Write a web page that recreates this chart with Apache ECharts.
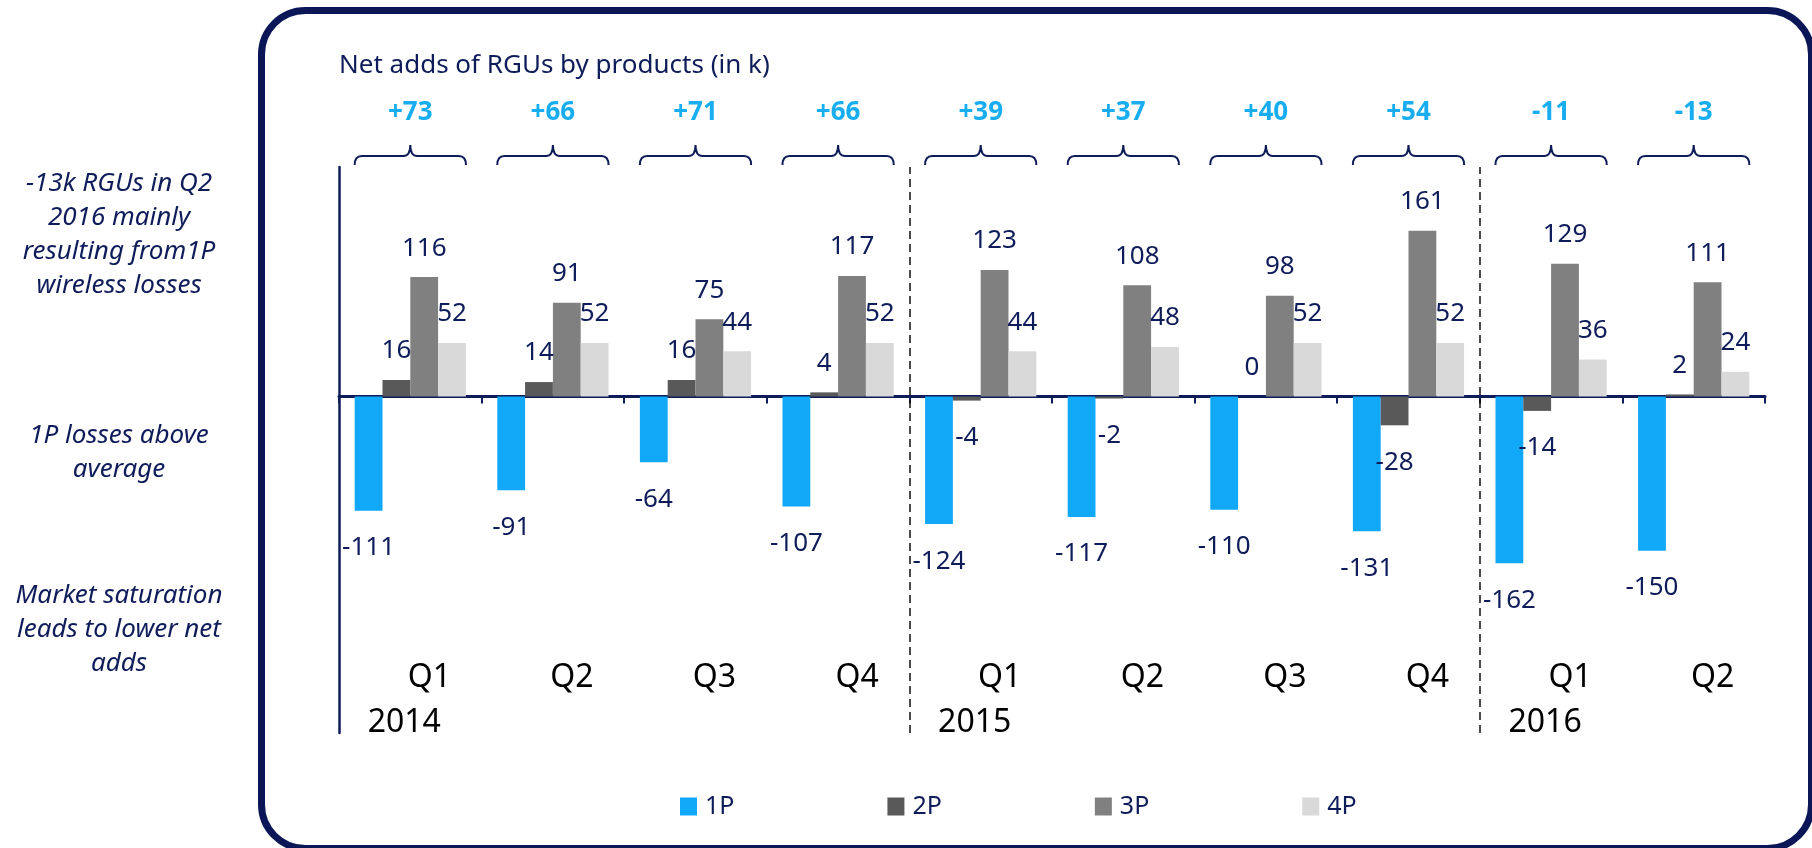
<!DOCTYPE html>
<html>
<head>
<meta charset="utf-8">
<script src="https://cdn.jsdelivr.net/npm/echarts@6/dist/echarts.min.js"></script>
<style>
  html, body { margin: 0; padding: 0; background: #fff; }
  #chart { width: 1812px; height: 848px; }
</style>
</head>
<body>
<div id="chart"></div>
<script>
// Quarterly net adds of RGUs (in thousands) split by product bundle
const quarters = ['Q1', 'Q2', 'Q3', 'Q4', 'Q1', 'Q2', 'Q3', 'Q4', 'Q1', 'Q2'];
const years = ['2014', '', '', '', '2015', '', '', '', '2016', ''];
const seriesNames = ['1P', '2P', '3P', '4P'];
const p1 = [-111, -91, -64, -107, -124, -117, -110, -131, -162, -150];
const p2 = [16, 14, 16, 4, -4, -2, 0, -28, -14, 2];
const p3 = [116, 91, 75, 117, 123, 108, 98, 161, 129, 111];
const p4 = [52, 52, 44, 52, 44, 48, 52, 52, 36, 24];
const totals = [73, 66, 71, 66, 39, 37, 40, 54, -11, -13];
const yearBreaks = [4, 8];

const NAVY = '#0f1c5a';
const FONT = '"Noto Sans", "Open Sans", sans-serif';
const colors = ['#12a8f8', '#595959', '#808080', '#d9d9d9'];

// value labels: above positive bars, below negative ones
function withLabels(values) {
  return values.map(v => v >= 0
    ? { value: v, label: { position: 'top', distance: 16 } }
    : { value: v, label: { position: 'bottom', distance: 24 } });
}

function bracePath(cx, w, yEnd, yMid, yPeak) {
  const l = cx - w / 2, r = cx + w / 2, c = 7;
  return 'M' + l + ',' + yEnd +
    ' Q' + l + ',' + yMid + ' ' + (l + c) + ',' + yMid +
    ' L' + (cx - c) + ',' + yMid +
    ' Q' + cx + ',' + yMid + ' ' + cx + ',' + yPeak +
    ' Q' + cx + ',' + yMid + ' ' + (cx + c) + ',' + yMid +
    ' L' + (r - c) + ',' + yMid +
    ' Q' + r + ',' + yMid + ' ' + r + ',' + yEnd;
}

const chart = echarts.init(document.getElementById('chart'), null, { renderer: 'canvas' });

const barSeries = [p1, p2, p3, p4].map((vals, i) => ({
  name: seriesNames[i],
  type: 'bar',
  xAxisIndex: 0,
  yAxisIndex: 0,
  barGap: '0%',
  barCategoryGap: '22%',
  itemStyle: { color: colors[i] },
  label: {
    show: true,
    color: NAVY,
    fontSize: 26,
    fontFamily: FONT
  },
  data: withLabels(vals)
}));

function noteText(text, y) {
  return {
    type: 'text',
    silent: true,
    style: {
      text: text, x: 119, y: y, align: 'center', lineHeight: 34,
      fill: NAVY, fontSize: 26, fontStyle: 'italic', fontFamily: FONT
    }
  };
}

const option = {
  animation: false,
  backgroundColor: '#ffffff',
  title: {
    text: 'Net adds of RGUs by products (in k)',
    left: 339,
    top: 53,
    padding: 0,
    textStyle: { color: NAVY, fontSize: 26, fontWeight: 'normal', fontFamily: FONT }
  },
  legend: {
    data: seriesNames,
    left: 680,
    top: 794,
    padding: 0,
    itemWidth: 17,
    itemHeight: 18,
    itemGap: 153,
    icon: 'rect',
    textStyle: { color: NAVY, fontSize: 25, fontFamily: FONT, padding: [0, 0, 0, 3] }
  },
  grid: { left: 339, right: 47, top: 167, bottom: 115, containLabel: false },
  xAxis: [
    {
      type: 'category',
      data: quarters,
      axisLine: { onZero: true, lineStyle: { color: NAVY, width: 3 } },
      axisTick: { show: true, interval: 0, length: 7, lineStyle: { color: NAVY, width: 2 } },
      axisLabel: { show: false },
      splitLine: { show: false }
    },
    {
      type: 'category',
      data: quarters,
      position: 'bottom',
      offset: -71,
      axisLine: { show: false },
      axisTick: { show: false },
      axisLabel: {
        interval: 0, margin: 0, color: '#000', fontSize: 32, fontFamily: FONT,
        padding: [0, 0, 0, 38]
      }
    },
    {
      type: 'category',
      data: years,
      position: 'bottom',
      offset: -26,
      axisLine: { show: false },
      axisTick: { show: false },
      axisLabel: {
        interval: 0, margin: 0, color: '#000', fontSize: 32, fontFamily: FONT,
        padding: [0, 12, 0, 0]
      }
    },
    {
      type: 'value',
      min: 0,
      max: quarters.length,
      show: false
    }
  ],
  yAxis: [{
    type: 'value',
    min: -327,
    max: 223,
    axisLine: { show: true, lineStyle: { color: NAVY, width: 2.5 } },
    axisTick: { show: false },
    axisLabel: { show: false },
    splitLine: { show: false }
  }],
  graphic: [
    {
      type: 'rect',
      silent: true,
      shape: { x: 261.5, y: 10.5, width: 1550, height: 838, r: 44 },
      style: { fill: 'none', stroke: '#0b1656', lineWidth: 7 },
      z: 100
    },
    noteText('-13k RGUs in Q2\n2016 mainly\nresulting from1P\nwireless losses', 167),
    noteText('1P losses above\naverage', 419),
    noteText('Market saturation\nleads to lower net\nadds', 579)
  ],
  series: barSeries.concat([
    {
      // group totals with curly braces above each quarter
      type: 'custom',
      xAxisIndex: 0,
      yAxisIndex: 0,
      clip: false,
      silent: true,
      data: totals.map((t, i) => [i, t]),
      renderItem: function (params, api) {
        const cx = api.coord([api.value(0), 0])[0];
        const w = api.size([1, 0])[0] * 0.78;
        const top = params.coordSys.y;
        const t = api.value(1);
        return {
          type: 'group',
          children: [
            {
              type: 'path',
              shape: { pathData: bracePath(cx, w, top - 2, top - 11, top - 22) },
              style: { fill: 'none', stroke: NAVY, lineWidth: 2 }
            },
            {
              type: 'text',
              style: {
                text: (t > 0 ? '+' : '') + t,
                x: cx, y: top - 54,
                align: 'center', verticalAlign: 'middle',
                fill: '#17adf0', fontSize: 26, fontWeight: 'bold', fontFamily: FONT
              }
            }
          ]
        };
      }
    },
    {
      // dashed separators between years
      type: 'line',
      xAxisIndex: 3,
      yAxisIndex: 0,
      data: [],
      silent: true,
      markLine: {
        symbol: ['none', 'none'],
        silent: true,
        label: { show: false },
        lineStyle: { color: '#111', width: 1.5, type: [8, 5] },
        data: yearBreaks.map(v => ({ xAxis: v }))
      }
    }
  ])
};

chart.setOption(option);
</script>
</body>
</html>
